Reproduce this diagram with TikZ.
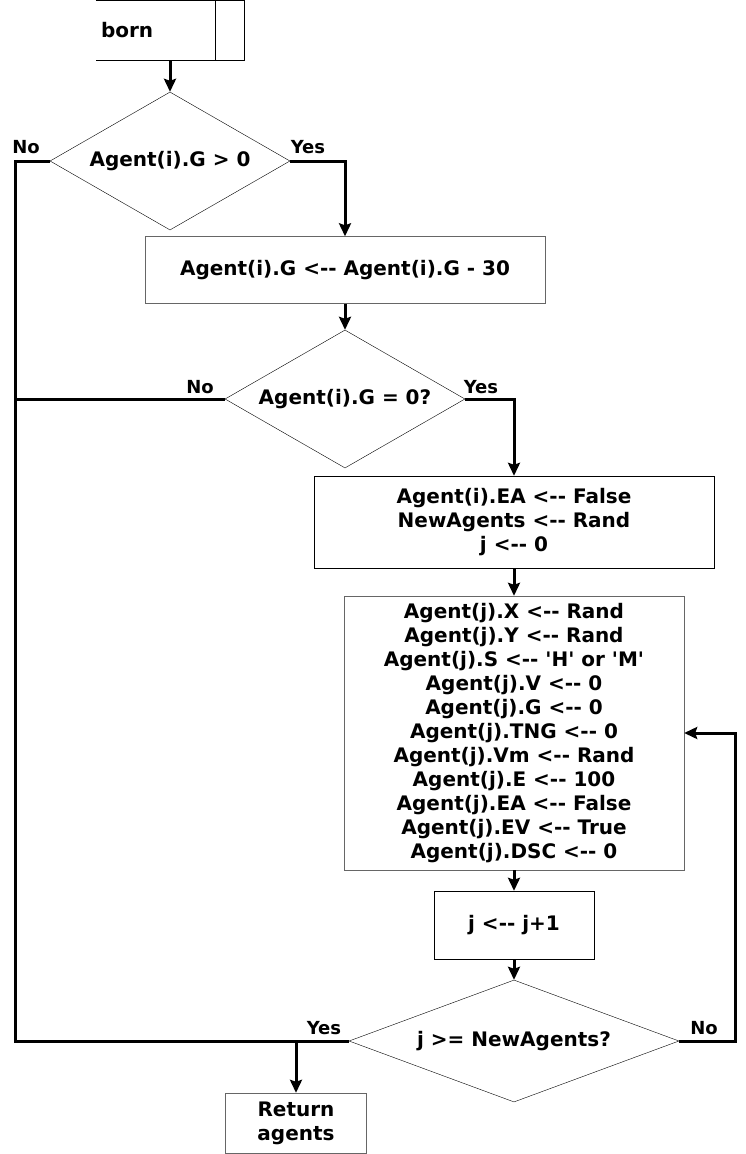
\documentclass[tikz,border=0pt]{standalone}
\usepackage{fontspec}
\setmainfont{DejaVu Sans}[Ligatures=TeXOff]
\usetikzlibrary{shapes.geometric}
\usetikzlibrary{arrows.meta}
\tikzset{x=1pt, y=-1pt,
    every node/.style={
        font=\bfseries\fontsize{20}{24}\selectfont,
        align=center},
    procbox/.style={
        draw=black!60,
        thin,
        inner sep=0pt},
    darkbox/.style={
        procbox,
        draw=black},
    decision/.style={
        diamond,
        draw,
        thin,
        inner sep=0pt},
    answer/.style={
        font=\bfseries\fontsize{18}{20}\selectfont,
        inner sep=0pt},
    wire/.style={
        draw,
        line width=3pt},
    flow/.style={
        wire,
        -{Stealth[length=13pt,width=12pt,inset=2pt]}}}

\begin{document}
\begin{tikzpicture}
        \useasboundingbox (0,0) rectangle (746,1154);
        % start block, open on the left
        \node[minimum width=148, minimum height=60, text width=138, inner sep=5pt, align=left] (born) at (170,30) {born};
        \draw[darkbox] (born.north west) -- (born.north east) -- (born.south east) -- (born.south west);
        \draw[darkbox] ([xshift=-29]born.north east) -- ([xshift=-29]born.south east);
        \node[decision, aspect=1.74, minimum width=240, minimum height=138] (gpos) at (170,161) {Agent(i).G > 0};
        \node[procbox, minimum width=400, minimum height=67] (dec) at (345,270) {Agent(i).G <-- Agent(i).G - 30};
        \node[decision, aspect=1.74, minimum width=240, minimum height=138] (gzero) at (345,399) {Agent(i).G = 0?};
        \node[darkbox, minimum width=400, minimum height=92] (init) at (514,522) {Agent(i).EA <-- False\\NewAgents <-- Rand\\j <-- 0};
        \node[procbox, minimum width=340, minimum height=274] (newag) at (514,733) {Agent(j).X <-- Rand\\Agent(j).Y <-- Rand\\Agent(j).S <-- 'H' or 'M'\\Agent(j).V <-- 0\\Agent(j).G <-- 0\\Agent(j).TNG <-- 0\\Agent(j).Vm <-- Rand\\Agent(j).E <-- 100\\Agent(j).EA <-- False\\Agent(j).EV <-- True\\Agent(j).DSC <-- 0};
        \node[darkbox, minimum width=160, minimum height=68] (incr) at (514,925) {j <-- j+1};
        \node[decision, aspect=2.7, minimum width=330, minimum height=122] (done) at (514,1041) {j >= NewAgents?};
        \node[procbox, minimum width=141, minimum height=60] (ret) at (296,1123) {Return\\agents};
        \coordinate (ltop) at (15,161);
        \coordinate (lbot) at (15,1041);
        \coordinate (rloop) at (735,733);
        % connectors
        \draw[flow] (born.south) -- (gpos.north);
        \draw[flow] (gpos.east) -| (dec.north);
        \draw[flow] (dec.south) -- (gzero.north);
        \draw[flow] (gzero.east) -| (init.north);
        \draw[flow] (init.south) -- (newag.north);
        \draw[flow] (newag.south) -- (incr.north);
        \draw[flow] (incr.south) -- (done.north);
        \draw[flow] (done.east) -| (rloop) -- (newag.east);
        \draw[wire] (gpos.west) -- (ltop) -- (lbot) -- (done.west);
        \draw[wire] (gzero.west) -- (gzero.west -| ltop);
        \draw[flow] (done.west -| ret.north) -- (ret.north);
        % branch labels
        \node[answer] (gposno) at (26,147) {No};
        \node[answer] (gposyes) at (308,147) {Yes};
        \node[answer] (gzerono) at (200,387) {No};
        \node[answer] (gzeroyes) at (481,387) {Yes};
        \node[answer] (doneyes) at (324,1028) {Yes};
        \node[answer] (doneno) at (704,1028) {No};
    \end{tikzpicture}
\end{document}
